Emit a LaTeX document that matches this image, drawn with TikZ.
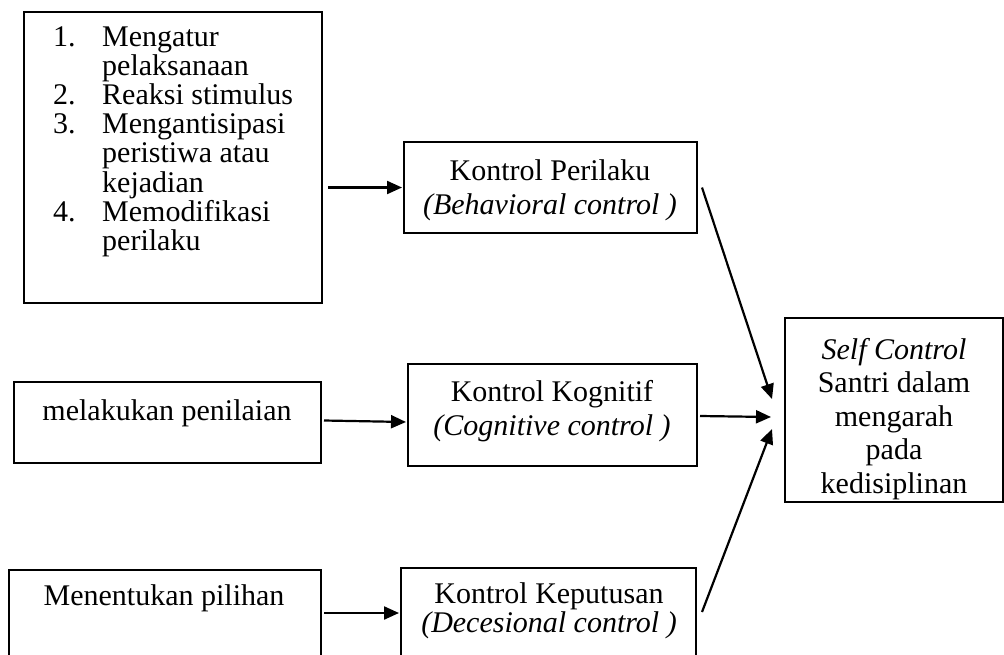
\documentclass[tikz,border=0pt]{standalone}
\usepackage{fontspec}
\setmainfont{Liberation Serif}
\usetikzlibrary{arrows.meta,calc}
\begin{document}
\begin{tikzpicture}[x=1pt,y=-1pt,
  box/.style={draw, line width=2pt, inner sep=0pt},
  txt/.style={inner sep=0pt, font=\fontsize{30}{33.5}\selectfont},
  arr/.style={line width=2.2pt, -{Triangle[length=15pt,width=13pt]}}]
\clip (0,0) rectangle (1004,654);
% boxes
\node[box, minimum width=298pt, minimum height=291pt] (b1) at (173,157.5) {};
\node[box, minimum width=293pt, minimum height=91pt] (kp) at (550.5,187.5) {};
\node[box, minimum width=307pt, minimum height=81pt] (ml) at (167.5,422.5) {};
\node[box, minimum width=289pt, minimum height=102pt] (kk) at (552.5,415) {};
\node[box, minimum width=312pt, minimum height=110pt] (mp) at (165,625) {};
\node[box, minimum width=295pt, minimum height=112pt] (kkep) at (548.5,624) {};
\node[box, minimum width=218pt, minimum height=184pt] (sc) at (894,410) {};
% texts (base anchor = baseline of the last line)
\node[txt, anchor=base west, align=left, font=\fontsize{30}{29.2}\selectfont] (t1) at (53,250.5)
  {\makebox[49pt][l]{1.}Mengatur\\
   \hspace*{49pt}pelaksanaan\\
   \makebox[49pt][l]{2.}Reaksi stimulus\\
   \makebox[49pt][l]{3.}Mengantisipasi\\
   \hspace*{49pt}peristiwa atau\\
   \hspace*{49pt}kejadian\\
   \makebox[49pt][l]{4.}Memodifikasi\\
   \hspace*{49pt}perilaku};
\node[txt, anchor=base, align=center] (tkp) at (550,214)
  {Kontrol Perilaku\\\textit{(Behavioral control )}};
\node[txt, anchor=base, align=center, font=\fontsize{30}{34}\selectfont] (tkk) at (552,435)
  {Kontrol Kognitif\\\textit{(Cognitive control )}};
\node[txt, anchor=base] (tml) at (167,420) {melakukan penilaian};
\node[txt, anchor=base] (tmp) at (164,605) {Menentukan pilihan};
\node[txt, anchor=base, align=center, font=\fontsize{30}{28.5}\selectfont] (tkkep) at (549,632)
  {Kontrol Keputusan\\\textit{(Decesional control )}};
\node[txt, anchor=base, align=center] (tsc) at (894,493)
  {\textit{Self Control}\\Santri dalam\\mengarah\\pada\\kedisiplinan};
% connectors
\draw[arr] ([xshift=5pt]b1.east |- kp.west) -- ([xshift=-1pt]kp.west);
\draw[arr] ($(ml.east)+(2,-2)$) -- ($(kk.west)+(-1,7)$);
\draw[arr] ($(mp.east)+(2,-12)$) -- ($(kkep.west)+(-1,-11)$);
\draw[arr] ($(kp.east)+(4,0)$) -- ($(sc.west)+(-12,-11)$);
\draw[arr] ($(kk.east)+(2,1)$) -- ($(sc.west)+(-13,7)$);
\draw[arr] ($(kkep.east)+(5,-12)$) -- ($(sc.west)+(-12,19)$);
\end{tikzpicture}
\end{document}
